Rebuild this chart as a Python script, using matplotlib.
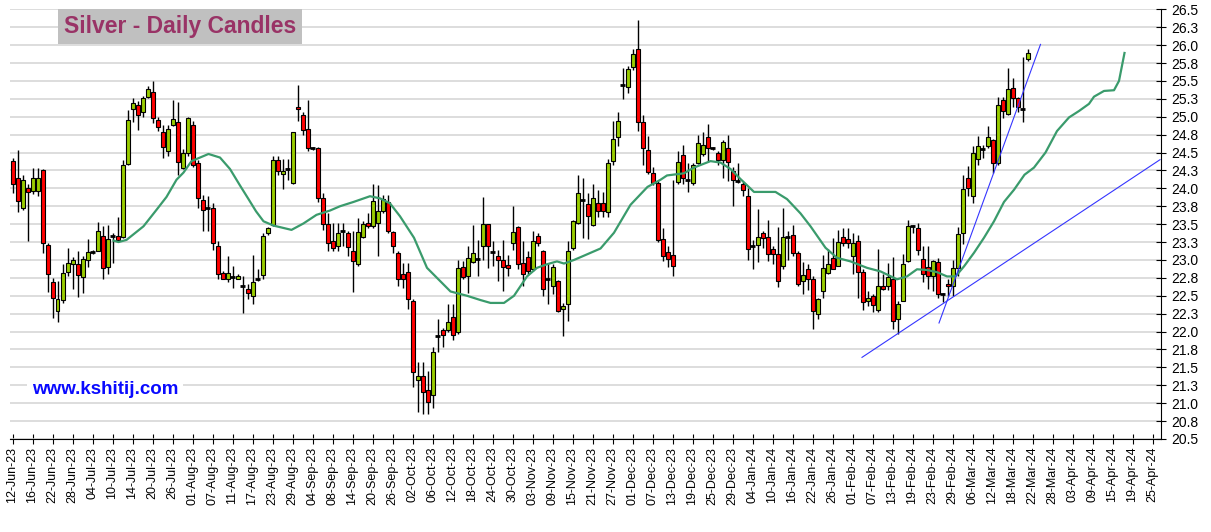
import numpy as np
import pandas as pd
import matplotlib
matplotlib.use("Agg")
import matplotlib.pyplot as plt

plt.rcParams['font.family'] = ['Liberation Sans', 'DejaVu Sans']

##Weekday index 0 = 12-Jun-23, axis runs on to 25-Apr-24
start_day = '2023-06-12'
axis_days = 230

##Daily candles
opens = [24.38, 24.15, 23.72, 24.01, 23.96, 23.96, 24.25, 23.21, 22.69, 22.29,
         22.44, 22.83, 22.94, 22.95, 22.76, 23.00, 23.11, 23.13, 23.34, 22.90,
         23.34, 23.33, 23.32, 24.34, 25.11, 25.17, 25.06, 25.28, 25.35, 24.96,
         24.79, 24.52, 24.88, 24.93, 24.28, 24.49, 24.89, 24.35, 23.84, 23.72,
         23.72, 23.20, 22.82, 22.74, 22.76, 22.74, 22.64, 22.59, 22.49, 22.74,
         22.79, 23.37, 23.49, 24.40, 24.20, 24.27, 24.08, 25.14, 25.03, 24.83,
         24.56, 24.57, 23.87, 23.50, 23.27, 23.20, 23.40, 23.38, 23.13, 22.94,
         23.32, 23.52, 23.48, 23.51, 23.68, 23.81, 23.39, 23.10, 22.81, 22.83,
         22.42, 21.32, 21.38, 21.19, 21.12, 21.94, 22.02, 22.02, 22.21, 21.99,
         22.90, 22.77, 22.97, 23.02, 23.20, 23.50, 23.11, 23.05, 23.00, 22.93,
         23.24, 23.46, 22.96, 23.04, 22.88, 23.33, 23.12, 22.73, 22.63, 22.70,
         22.31, 22.38, 23.16, 23.52, 23.84, 23.78, 23.49, 23.79, 23.79, 23.67,
         24.38, 24.71, 25.44, 25.42, 25.70, 25.94, 24.92, 24.54, 24.22, 24.07,
         23.29, 23.11, 23.07, 24.09, 24.47, 24.12, 24.07, 24.36, 24.48, 24.71,
         24.56, 24.50, 24.39, 24.56, 24.24, 24.10, 24.06, 23.89, 23.19, 23.21,
         23.38, 23.32, 23.15, 23.08, 22.91, 23.32, 23.35, 23.10, 22.71, 22.88,
         22.74, 22.25, 22.57, 22.82, 23.03, 22.92, 23.32, 23.29, 23.06, 23.27,
         22.83, 22.43, 22.50, 22.30, 22.63, 22.63, 22.74, 22.17, 22.43, 22.98,
         23.47, 23.45, 23.02, 22.90, 22.77, 22.97, 22.53, 22.67, 22.63, 22.89,
         23.37, 24.14, 23.89, 24.41, 24.55, 24.59, 24.68, 24.35, 25.23, 25.04,
         25.40, 25.26, 25.11, 25.80]
highs = [24.43, 24.53, 24.19, 24.06, 24.29, 24.29, 24.27, 23.23, 22.75, 22.70,
         22.94, 23.16, 23.04, 23.12, 23.05, 23.29, 23.14, 23.53, 23.47, 23.49,
         23.37, 23.60, 24.39, 25.09, 25.26, 25.22, 25.29, 25.43, 25.50, 24.99,
         24.89, 24.89, 25.23, 25.21, 24.55, 25.00, 24.94, 24.40, 23.91, 23.90,
         23.79, 23.26, 22.84, 23.06, 22.91, 22.80, 22.77, 22.66, 23.07, 22.87,
         23.38, 23.46, 24.45, 24.45, 24.41, 24.41, 24.79, 25.44, 25.06, 25.23,
         24.58, 24.58, 23.93, 23.65, 23.51, 23.51, 23.51, 23.40, 23.40, 23.58,
         23.55, 23.65, 24.06, 24.05, 23.91, 23.91, 23.40, 23.12, 22.96, 22.96,
         22.45, 21.57, 21.57, 21.45, 21.78, 22.18, 22.05, 22.39, 22.38, 23.00,
         22.98, 23.19, 23.49, 23.28, 23.88, 23.50, 23.26, 23.14, 23.28, 23.07,
         23.75, 23.47, 23.26, 23.12, 23.40, 23.38, 23.14, 22.96, 22.94, 22.72,
         22.40, 23.26, 23.56, 24.19, 24.15, 23.93, 24.06, 23.98, 23.95, 24.41,
         24.94, 25.07, 25.68, 25.71, 25.94, 26.35, 25.03, 24.73, 24.30, 24.10,
         23.44, 23.20, 24.12, 24.52, 24.60, 24.36, 24.35, 24.75, 24.78, 24.90,
         24.58, 24.52, 24.68, 24.75, 24.30, 24.36, 24.09, 24.00, 23.28, 23.71,
         23.40, 23.56, 23.20, 23.46, 23.72, 23.40, 23.49, 23.12, 22.97, 22.95,
         22.78, 22.47, 23.07, 23.15, 23.31, 23.42, 23.44, 23.44, 23.38, 23.35,
         22.87, 22.56, 22.52, 23.15, 22.80, 22.96, 23.04, 22.43, 23.09, 23.56,
         23.49, 23.51, 23.20, 23.19, 23.00, 23.03, 22.54, 22.73, 23.00, 23.46,
         24.18, 24.31, 24.59, 24.73, 24.60, 24.87, 24.69, 25.27, 25.27, 25.68,
         25.54, 25.27, 25.83, 25.94]
lows = [23.93, 23.67, 23.70, 23.26, 23.92, 23.90, 23.10, 22.55, 22.19, 22.13,
        22.40, 22.77, 22.59, 22.48, 22.54, 22.90, 23.09, 23.12, 22.73, 22.81,
        22.96, 23.26, 23.30, 24.33, 24.92, 24.82, 24.99, 25.26, 24.91, 24.80,
        24.43, 24.45, 24.87, 24.18, 24.27, 24.45, 24.30, 23.72, 23.40, 23.40,
        23.14, 22.73, 22.73, 22.69, 22.61, 22.73, 22.26, 22.45, 22.39, 22.70,
        22.73, 23.35, 23.47, 24.18, 23.99, 24.11, 24.06, 24.94, 24.75, 24.52,
        24.54, 23.81, 23.42, 23.13, 23.12, 23.12, 23.20, 23.05, 22.55, 22.91,
        23.31, 23.45, 23.45, 23.06, 23.66, 23.38, 23.10, 22.64, 22.61, 22.31,
        21.22, 20.88, 20.85, 20.85, 20.93, 21.71, 21.78, 22.00, 21.88, 21.96,
        22.73, 22.54, 22.96, 22.77, 23.00, 22.89, 22.92, 22.70, 22.56, 22.77,
        23.14, 22.87, 22.63, 22.80, 22.84, 23.19, 22.50, 22.38, 22.52, 22.27,
        21.94, 22.15, 23.14, 23.50, 23.30, 23.29, 23.47, 23.60, 23.60, 23.60,
        24.33, 24.59, 25.25, 25.33, 25.65, 24.80, 24.32, 24.20, 24.05, 23.25,
        22.98, 22.90, 22.77, 24.06, 24.06, 23.95, 24.05, 24.34, 24.45, 24.38,
        24.54, 24.33, 24.15, 24.10, 23.75, 24.07, 23.90, 23.00, 22.87, 22.97,
        23.16, 22.98, 22.95, 22.62, 22.88, 23.00, 23.05, 22.63, 22.53, 22.58,
        22.03, 22.17, 22.47, 22.80, 22.87, 22.91, 23.19, 23.16, 22.80, 22.47,
        22.30, 22.36, 22.28, 22.27, 22.58, 22.58, 22.03, 21.96, 22.42, 22.97,
        23.38, 23.07, 22.69, 22.59, 22.56, 22.47, 22.41, 22.50, 22.49, 22.77,
        23.22, 23.90, 23.80, 24.32, 24.43, 24.57, 24.22, 24.33, 24.98, 25.03,
        25.14, 25.06, 24.93, 25.78]
closes = [24.06, 23.82, 24.11, 23.95, 24.14, 24.14, 23.24, 22.81, 22.47, 22.46,
          22.82, 22.96, 23.00, 22.79, 23.02, 23.11, 23.11, 23.40, 22.89, 23.29,
          23.34, 23.28, 24.32, 24.96, 25.19, 25.03, 25.26, 25.39, 24.98, 24.86,
          24.58, 24.83, 24.97, 24.37, 24.50, 24.98, 24.33, 23.86, 23.70, 23.72,
          23.24, 22.81, 22.74, 22.82, 22.76, 22.78, 22.64, 22.54, 22.69, 22.74,
          23.33, 23.44, 24.40, 24.24, 24.24, 24.27, 24.79, 25.11, 24.82, 24.57,
          24.56, 23.87, 23.50, 23.24, 23.17, 23.38, 23.40, 23.18, 22.98, 23.39,
          23.50, 23.47, 23.83, 23.68, 23.85, 23.40, 23.20, 22.73, 22.74, 22.45,
          21.43, 21.38, 21.15, 21.02, 21.72, 21.94, 21.95, 22.13, 21.95, 22.89,
          22.76, 23.03, 23.10, 23.02, 23.50, 23.20, 23.11, 23.00, 22.90, 22.89,
          23.39, 22.94, 22.80, 22.84, 23.27, 23.24, 22.59, 22.73, 22.90, 22.29,
          22.36, 23.12, 23.54, 23.93, 23.84, 23.62, 23.86, 23.68, 23.68, 24.35,
          24.69, 24.94, 25.44, 25.67, 25.87, 24.92, 24.56, 24.23, 24.07, 23.28,
          23.06, 23.02, 22.91, 24.37, 24.15, 24.12, 24.32, 24.63, 24.60, 24.57,
          24.56, 24.39, 24.65, 24.37, 24.11, 24.10, 23.97, 23.15, 23.19, 23.32,
          23.30, 23.08, 23.08, 22.71, 23.32, 23.32, 23.10, 22.66, 22.79, 22.74,
          22.29, 22.45, 22.89, 22.94, 22.88, 23.25, 23.23, 23.24, 23.24, 22.83,
          22.41, 22.47, 22.37, 22.63, 22.60, 22.76, 22.15, 22.39, 22.94, 23.47,
          23.47, 23.14, 22.80, 22.77, 22.98, 22.53, 22.53, 22.64, 22.89, 23.36,
          23.99, 24.00, 24.50, 24.59, 24.55, 24.72, 24.35, 25.17, 25.08, 25.39,
          25.26, 25.14, 25.11, 25.89]

##Green average line, read at points along its length (x = weekday index)
ma_pos = [20.2, 21.2, 22.8, 26.2, 28.8, 30.8, 32.8, 34.2, 35.8, 37.5,
          39.2, 41.5, 43.5, 45.5, 47.2, 48.7, 50.2, 52.2, 55.8, 58.2,
          60.8, 63.5, 65.5, 68.2, 71.5, 73.5, 75.5, 77.5, 80.3, 82.9,
          87.6, 90.9, 93.6, 95.6, 98.3, 100.3, 102.9, 104.9, 106.9, 108.9,
          110.3, 112.3, 114.3, 117.6, 120.3, 123.6, 127.0, 129.6, 130.9, 134.3,
          136.3, 139.6, 141.6, 143.6, 145.6, 148.3, 152.6, 154.9, 157.6, 159.6,
          162.6, 164.9, 167.6, 170.9, 173.6, 176.9, 178.9, 180.9, 182.9, 184.9,
          186.9, 188.6, 190.3, 192.3, 194.3, 196.3, 198.3, 200.3, 202.4, 204.3,
          206.6, 208.9, 211.3, 213.3, 215.3, 216.3, 218.3, 220.3, 221.3, 222.4]
ma_val = [23.27, 23.25, 23.28, 23.47, 23.70, 23.88, 24.12, 24.22, 24.38, 24.43,
          24.48, 24.43, 24.27, 24.04, 23.85, 23.68, 23.54, 23.48, 23.42, 23.51,
          23.63, 23.69, 23.75, 23.81, 23.89, 23.86, 23.79, 23.61, 23.31, 22.89,
          22.56, 22.50, 22.44, 22.40, 22.40, 22.50, 22.77, 22.89, 22.94, 22.98,
          22.95, 23.00, 23.06, 23.16, 23.38, 23.77, 24.02, 24.12, 24.18, 24.21,
          24.29, 24.38, 24.36, 24.27, 24.13, 23.95, 23.95, 23.85, 23.65, 23.47,
          23.17, 23.03, 22.98, 22.89, 22.84, 22.73, 22.77, 22.87, 22.86, 22.83,
          22.77, 22.77, 22.91, 23.10, 23.31, 23.54, 23.81, 23.98, 24.19, 24.29,
          24.50, 24.80, 24.99, 25.08, 25.18, 25.28, 25.36, 25.37, 25.50, 25.89]

##Blue trend lines: (start, end) in weekday index and price
trend_x = [[169.9, 229.5], [185.3, 205.6]]
trend_y = [[21.64, 24.40], [22.12, 26.01]]

ytick_labels = ['20.5', '20.8', '21.0', '21.3', '21.5', '21.8', '22.0', '22.3', '22.5',
                '22.8', '23.0', '23.3', '23.5', '23.8', '24.0', '24.3', '24.5', '24.8',
                '25.0', '25.3', '25.5', '25.8', '26.0', '26.3', '26.5']

o = np.array(opens)
h = np.array(highs)
l = np.array(lows)
c = np.array(closes)
idx = np.arange(len(c))
up = c > o
down = c < o
flat = c == o

fig = plt.figure(figsize=(12.11, 5.32), dpi=100)
ax = fig.add_axes([10/1211, 1 - 439/532, 1151/1211, 429.7/532])

##Candles: wicks, then bodies
ax.vlines(idx, l, h, color='black', lw=1.0, zorder=2)
ax.bar(idx[up], (c - o)[up], bottom=o[up], width=0.8, color='#99cc00',
       edgecolor='black', lw=0.8, zorder=3)
ax.bar(idx[down], (o - c)[down], bottom=c[down], width=0.8, color='#ff0000',
       edgecolor='black', lw=0.8, zorder=3)
ax.hlines(o[flat], idx[flat] - 0.45, idx[flat] + 0.45, color='black', lw=2, zorder=3)

ax.plot(ma_pos, ma_val, color='#3a9b6c', lw=1.6, zorder=4)
for xs, ys in zip(trend_x, trend_y):
    ax.plot(xs, ys, color='#3535ff', lw=0.8, zorder=4)

ax.set_xlim(-0.5, 229.7)
ax.set_ylim(20.5, 26.5)

##Axes and ticks
dates = pd.bdate_range(start_day, periods=axis_days)
tick_idx = np.arange(0, axis_days - 1, 4)
ax.set_xticks(tick_idx)
ax.set_xticklabels([dates[k].strftime('%d-%b-%y') for k in tick_idx], rotation=90, fontsize=9)
ax.set_yticks(np.linspace(20.5, 26.5, len(ytick_labels)))
ax.set_yticklabels(ytick_labels, fontsize=10)
ax.yaxis.tick_right()
ax.tick_params(axis='both', direction='inout', length=7, width=0.8, colors='black')
ax.tick_params(axis='y', pad=4)
ax.tick_params(axis='x', pad=2)
ax.yaxis.grid(True, color='#d3d3d3', lw=1.1)
ax.set_axisbelow(True)
for side in ['left', 'top']:
    ax.spines[side].set_visible(False)
for side in ['right', 'bottom']:
    ax.spines[side].set_linewidth(0.8)

fig.text(64/1211, 1 - 26.5/532, 'Silver - Daily Candles', fontsize=16.5, fontweight='bold',
         color='#993366', va='center', ha='left',
         bbox=dict(boxstyle='square,pad=0.25', fc='#c0c0c0', ec='none'))
fig.text(32/1211, 1 - 389/532, 'www.kshitij.com', fontsize=13.5, fontweight='bold',
         color='#0a0aff', va='center', ha='left',
         bbox=dict(boxstyle='square,pad=0.25', fc='white', ec='none'))

fig.savefig('out.png', dpi=100)
